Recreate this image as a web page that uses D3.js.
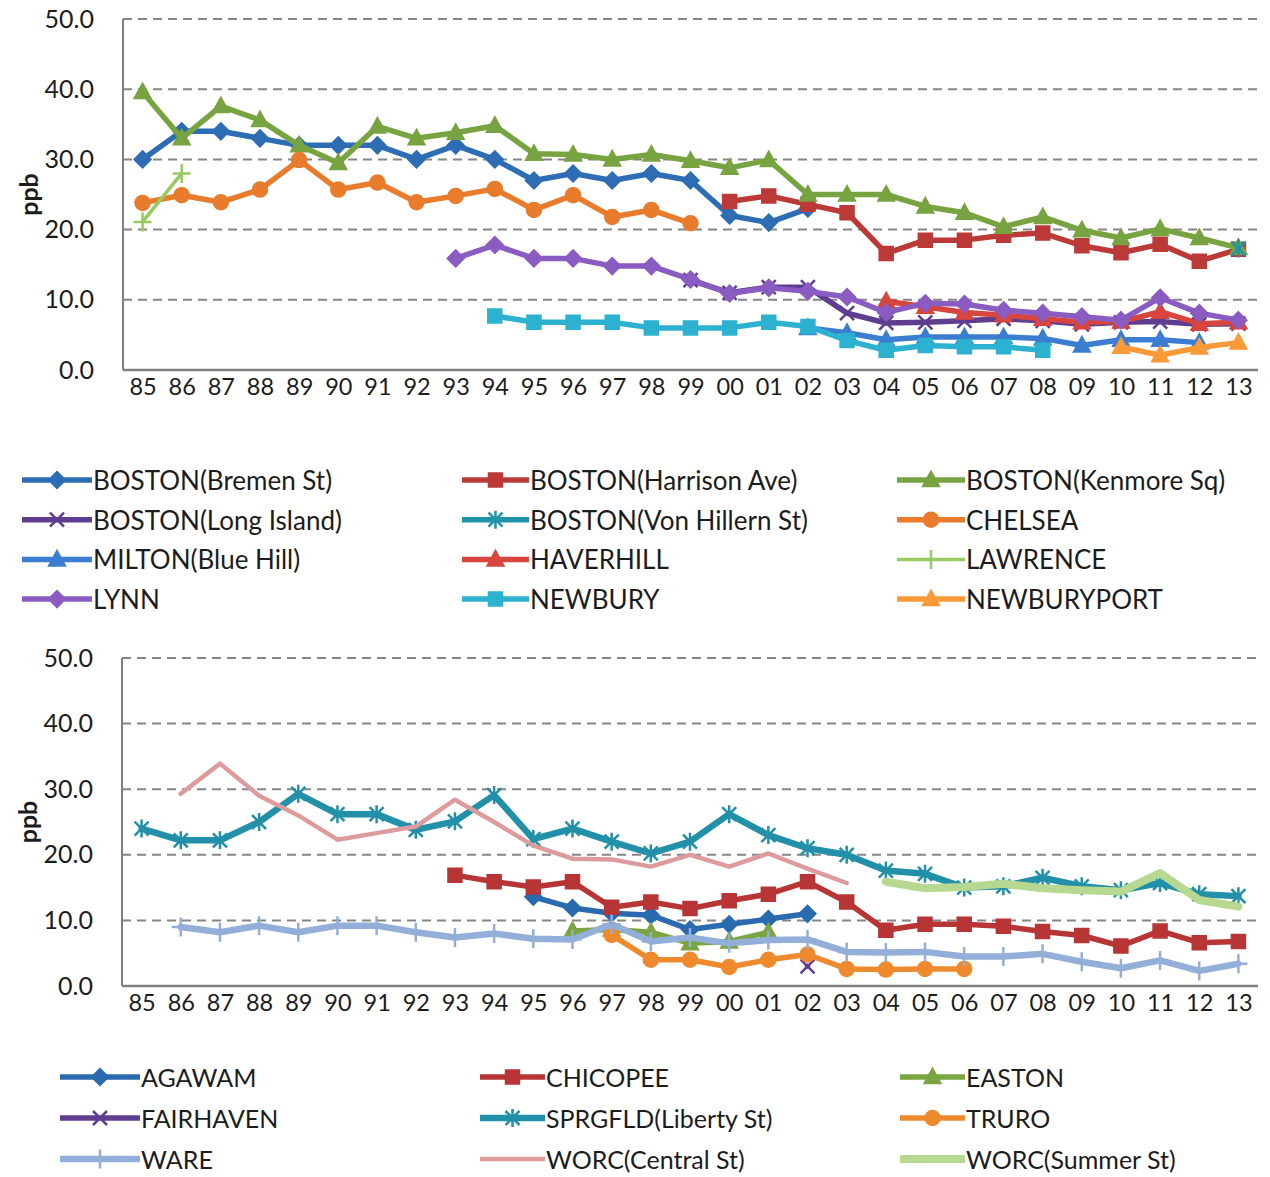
<!DOCTYPE html>
<html>
<head>
<meta charset="utf-8">
<script src="https://cdn.jsdelivr.net/npm/d3@7"></script>
<style>
  body { margin: 0; background: #ffffff; }
  svg { display: block; }
  text { font-family: Lato, "Open Sans", sans-serif; fill: #1c1c1c; }
</style>
</head>
<body>
<svg id="chart" width="1270" height="1177"></svg>
<script>
// Annual mean NO2 (ppb) at Massachusetts monitoring sites, 1985-2013
const _ = null;
const years = ["85","86","87","88","89","90","91","92","93","94","95","96","97","98","99",
               "00","01","02","03","04","05","06","07","08","09","10","11","12","13"];
const yTicks = [0, 10, 20, 30, 40, 50];

// Eastern sites
const bostonBremen   = [30,34,34,33,32,32,32,30,32,30,27,28,27,28,27,22,21,23,_,_,_,_,_,_,_,_,_,_,_];
const bostonHarrison = [_,_,_,_,_,_,_,_,_,_,_,_,_,_,_,24,24.8,23.6,22.4,16.6,18.5,18.5,19.2,19.5,17.7,16.7,17.9,15.5,17.2];
const bostonKenmore  = [39.6,33,37.6,35.6,32,29.5,34.7,33,33.8,34.8,30.8,30.7,30,30.7,29.8,28.8,29.9,25,25,25,23.3,22.4,20.4,21.8,19.9,18.8,20.1,18.8,17.4];
const bostonLongIsl  = [_,_,_,_,_,_,_,_,_,_,_,_,_,_,12.8,11,11.8,11.8,8.1,6.7,6.8,7,7.3,7,6.5,6.8,6.9,6.5,6.6];
const bostonVonHill  = [_,_,_,_,_,_,_,_,_,_,_,_,_,_,_,_,_,_,_,_,_,_,_,_,_,_,_,_,17.3];
const chelsea        = [23.8,24.9,23.9,25.7,29.9,25.7,26.7,23.9,24.8,25.8,22.8,24.9,21.8,22.8,20.9,_,_,_,_,_,_,_,_,_,_,_,_,_,_];
const miltonBlueHill = [_,_,_,_,_,_,_,_,_,_,_,_,_,_,_,_,_,6.0,5.3,4.3,4.7,4.7,4.7,4.5,3.5,4.3,4.3,3.9,_];
const haverhill      = [_,_,_,_,_,_,_,_,_,_,_,_,_,_,_,_,_,_,_,9.8,9.0,8.2,7.8,7.3,6.8,6.9,8.3,6.6,6.8];
const lawrence       = [21.1,28,_,_,_,_,_,_,_,_,_,_,_,_,_,_,_,_,_,_,_,_,_,_,_,_,_,_,_];
const lynn           = [_,_,_,_,_,_,_,_,15.9,17.8,15.9,15.9,14.8,14.8,12.9,10.9,11.7,11.2,10.4,8.2,9.5,9.4,8.5,8.1,7.6,7.1,10.3,8.1,7.1];
const newbury        = [_,_,_,_,_,_,_,_,_,7.7,6.8,6.8,6.8,6.0,6.0,6.0,6.8,6.2,4.2,2.8,3.5,3.3,3.3,2.8,_,_,_,_,_];
const newburyport    = [_,_,_,_,_,_,_,_,_,_,_,_,_,_,_,_,_,_,_,_,_,_,_,_,_,3.3,2.1,3.2,3.9];

// Western and southeastern sites
const agawam         = [_,_,_,_,_,_,_,_,_,_,13.6,11.9,11.1,10.8,8.6,9.4,10.2,11.0,_,_,_,_,_,_,_,_,_,_,_];
const chicopee       = [_,_,_,_,_,_,_,_,16.9,15.9,15.1,15.9,12,12.8,11.8,13,14,15.9,12.8,8.5,9.4,9.4,9.1,8.3,7.7,6.1,8.4,6.6,6.8];
const easton         = [_,_,_,_,_,_,_,_,_,_,_,8.4,8.6,8.2,6.5,6.8,8.2,_,_,_,_,_,_,_,_,_,_,_,_];
const fairhaven      = [_,_,_,_,_,_,_,_,_,_,_,_,_,_,_,_,_,3.0,_,_,_,_,_,_,_,_,_,_,_];
const sprgfldLiberty = [24,22.2,22.2,25,29.3,26.2,26.2,23.8,25.1,29.1,22.4,24,22,20.2,22,26.2,23,21,20,17.6,17.1,15,15.2,16.5,15.2,14.6,15.7,14,13.7];
const truro          = [_,_,_,_,_,_,_,_,_,_,_,_,7.8,4,4,2.9,4,4.8,2.6,2.5,2.6,2.6,_,_,_,_,_,_,_];
const ware           = [_,9,8.2,9.2,8.2,9.2,9.2,8.2,7.4,8,7.2,7.1,9.4,6.8,7.4,6.5,7,7.1,5.2,5.1,5.2,4.5,4.5,4.9,3.7,2.7,3.9,2.3,3.4];
const worcCentral    = [_,29.3,33.9,29,26,22.3,23.3,24.3,28.4,25,21.4,19.4,19.3,18.2,20,18.2,20.2,17.9,15.7,_,_,_,_,_,_,_,_,_,_];
const worcSummer     = [_,_,_,_,_,_,_,_,_,_,_,_,_,_,_,_,_,_,_,15.9,14.9,15.1,15.6,14.9,14.6,14.4,17.2,13.1,12.1];

// Series appearance, in drawing / legend order
const topSeries = [
  { name: "BOSTON(Bremen St)",       values: bostonBremen,   color: "#2d6db4", marker: "diamond" },
  { name: "BOSTON(Harrison Ave)",    values: bostonHarrison, color: "#bb3a38", marker: "square" },
  { name: "BOSTON(Kenmore Sq)",      values: bostonKenmore,  color: "#77a340", marker: "triangle" },
  { name: "BOSTON(Long Island)",     values: bostonLongIsl,  color: "#5f3d8f", marker: "x" },
  { name: "BOSTON(Von Hillern St)",  values: bostonVonHill,  color: "#1f93a8", marker: "asterisk" },
  { name: "CHELSEA",                 values: chelsea,        color: "#e87b2c", marker: "circle" },
  { name: "MILTON(Blue Hill)",       values: miltonBlueHill, color: "#3b7dd0", marker: "triangle" },
  { name: "HAVERHILL",               values: haverhill,      color: "#d8453e", marker: "triangle" },
  { name: "LAWRENCE",                values: lawrence,       color: "#97ca60", marker: "plus", width: 3.5 },
  { name: "LYNN",                    values: lynn,           color: "#8a5cc2", marker: "diamond" },
  { name: "NEWBURY",                 values: newbury,        color: "#2cb2d0", marker: "square" },
  { name: "NEWBURYPORT",             values: newburyport,    color: "#f99a38", marker: "triangle" }
];
const bottomSeries = [
  { name: "AGAWAM",               values: agawam,         color: "#2a6bb0", marker: "diamond" },
  { name: "CHICOPEE",             values: chicopee,       color: "#b83536", marker: "square" },
  { name: "EASTON",               values: easton,         color: "#7aa540", marker: "triangle" },
  { name: "FAIRHAVEN",            values: fairhaven,      color: "#5f3d8f", marker: "x" },
  { name: "SPRGFLD(Liberty St)",  values: sprgfldLiberty, color: "#2290a8", marker: "asterisk", width: 6.5 },
  { name: "TRURO",                values: truro,          color: "#ee8a2e", marker: "circle" },
  { name: "WARE",                 values: ware,           color: "#93afd9", marker: "plus", width: 6.5 },
  { name: "WORC(Central St)",     values: worcCentral,    color: "#dd9b9e", marker: "none", width: 4.5 },
  { name: "WORC(Summer St)",      values: worcSummer,     color: "#b6d890", marker: "none", width: 8 }
];

const svg = d3.select("#chart");

// Marker geometry centred on (0,0)
function markerShape(type) {
  switch (type) {
    case "diamond":  return { d: "M0,-8.5L8.5,0L0,8.5L-8.5,0Z", fill: true };
    case "square":   return { d: "M-7,-7H7V7H-7Z", fill: true };
    case "triangle": return { d: "M0,-9L8.5,6.5L-8.5,6.5Z", fill: true };
    case "circle":   return { d: "M7.5,0A7.5,7.5 0 1,1 -7.5,0A7.5,7.5 0 1,1 7.5,0Z", fill: true };
    case "x":        return { d: "M-7,-7L7,7M-7,7L7,-7", fill: false };
    case "asterisk": return { d: "M-7,-7L7,7M-7,7L7,-7M0,-9L0,9", fill: false };
    case "plus":     return { d: "M-9,0L9,0M0,-9.5L0,9.5", fill: false };
    default:         return null;
  }
}

function drawMarker(g, type, color, x, y) {
  const m = markerShape(type);
  if (!m) return;
  g.append("path")
    .attr("d", m.d)
    .attr("transform", `translate(${x},${y})`)
    .attr("fill", m.fill ? color : "none")
    .attr("stroke", color)
    .attr("stroke-width", m.fill ? 1.5 : 2.5)
    .attr("stroke-linejoin", "miter");
}

function drawPanel(p) {
  const x = d3.scalePoint().domain(years).range([p.left, p.right]).padding(0.5);
  const y = d3.scaleLinear().domain([0, 50]).range([p.bottom, p.top]);
  const g = svg.append("g");

  // dashed horizontal gridlines
  g.selectAll("line.grid")
    .data(yTicks.filter(t => t > 0))
    .join("line")
    .attr("x1", p.left).attr("x2", p.right)
    .attr("y1", d => y(d)).attr("y2", d => y(d))
    .attr("stroke", "#858585").attr("stroke-width", 2)
    .attr("stroke-dasharray", "9,6");

  // y axis labels
  const yAxis = d3.axisLeft(y).tickValues(yTicks).tickFormat(d3.format(".1f")).tickSize(0).tickPadding(0);
  const ya = g.append("g").attr("transform", `translate(${p.left - 29},0)`).call(yAxis);
  ya.select(".domain").remove();
  ya.selectAll("text").style("font-size", "25px").style("font-family", "Lato, sans-serif").attr("fill", "#1c1c1c");

  // x axis labels
  const xAxis = d3.axisBottom(x).tickSize(0).tickPadding(0);
  const xa = g.append("g").attr("transform", `translate(0,${p.bottom + 8})`).call(xAxis);
  xa.select(".domain").remove();
  xa.selectAll("text").style("font-size", "23.5px").style("font-family", "Lato, sans-serif").attr("fill", "#1c1c1c");

  // axis lines
  g.append("line").attr("x1", p.left).attr("x2", p.left).attr("y1", p.top).attr("y2", p.bottom)
    .attr("stroke", "#7f7f7f").attr("stroke-width", 2);
  g.append("line").attr("x1", p.left).attr("x2", p.right).attr("y1", p.bottom).attr("y2", p.bottom)
    .attr("stroke", "#7f7f7f").attr("stroke-width", 2.5);

  // y axis title
  g.append("text")
    .attr("transform", `translate(${p.left - 95},${(p.top + p.bottom) / 2}) rotate(-90)`)
    .attr("text-anchor", "middle")
    .attr("dominant-baseline", "central")
    .style("font-size", "25px").style("font-weight", "bold")
    .text("ppb");

  // series lines and markers
  const line = d3.line()
    .defined(d => d != null)
    .x((d, i) => x(years[i]))
    .y(d => y(d));

  p.series.forEach(s => {
    const sg = g.append("g");
    sg.append("path")
      .attr("d", line(s.values))
      .attr("fill", "none")
      .attr("stroke", s.color)
      .attr("stroke-width", s.width || 5.5)
      .attr("stroke-linejoin", "round")
      .attr("stroke-linecap", "round");
    s.values.forEach((v, i) => {
      if (v != null) drawMarker(sg, s.marker, s.color, x(years[i]), y(v));
    });
  });

  // legend, three columns
  const lg = g.append("g");
  p.series.forEach((s, i) => {
    const col = i % 3, row = Math.floor(i / 3);
    const cx = p.legendCols[col], cy = p.legendTop + row * p.legendRow;
    const it = lg.append("g");
    it.append("line")
      .attr("x1", cx[0]).attr("x2", cx[1]).attr("y1", cy).attr("y2", cy)
      .attr("stroke", s.color).attr("stroke-width", s.width || 5.5);
    drawMarker(it, s.marker, s.color, (cx[0] + cx[1]) / 2, cy);
    it.append("text")
      .attr("x", cx[1] + 1).attr("y", cy)
      .attr("dominant-baseline", "central")
      .style("font-size", p.legendFont)
      .text(s.name);
  });
}

drawPanel({
  left: 123, right: 1258, top: 19, bottom: 370,
  series: topSeries,
  legendCols: [[22, 92], [462, 529], [897, 965]],
  legendTop: 480, legendRow: 39.7, legendFont: "26px"
});

drawPanel({
  left: 122, right: 1258, top: 658, bottom: 986,
  series: bottomSeries,
  legendCols: [[60, 140], [480, 545], [900, 965]],
  legendTop: 1077, legendRow: 41, legendFont: "25px"
});
</script>
</body>
</html>
